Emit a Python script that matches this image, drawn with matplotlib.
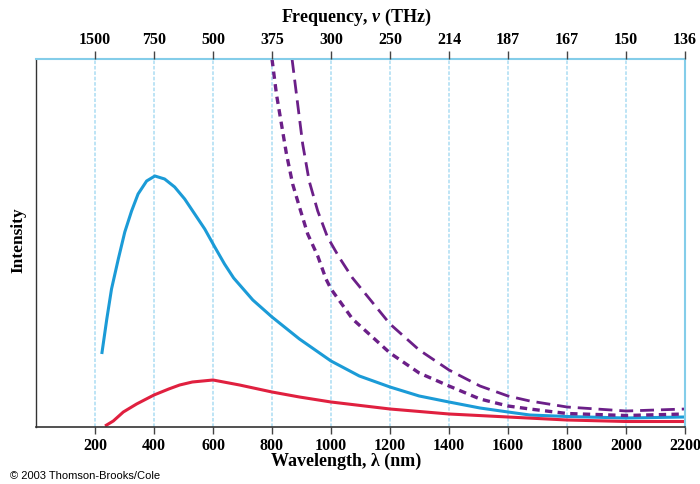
import matplotlib
matplotlib.use('Agg')
import matplotlib.pyplot as plt

# data (intensity in arbitrary units)
blue_wl = [223, 240, 256, 279, 301, 324, 346, 375, 403, 436, 470, 504, 538, 572, 606, 639, 670, 735,
           800, 893, 1000, 1096, 1200, 1299, 1400, 1505, 1600, 1674, 1800, 2000, 2200]
blue_int = [73, 108, 138, 168, 195, 216, 233, 246, 251, 248, 240, 228, 213, 198, 180, 163, 149, 127,
            110, 88, 66, 51, 40, 31, 25, 19, 15, 12, 10.5, 9, 10]

red_wl = [234, 262, 296, 341, 400, 450, 487, 530, 600, 690, 800, 893, 1000, 1200, 1400, 1600, 1800, 2000, 2200]
red_int = [1, 6, 15, 23, 32, 38, 42, 45, 47, 42, 35, 30, 25, 18, 13, 10, 7, 5.5, 5.5]

short_wl = [800, 815, 832, 849, 870, 893, 921, 955, 983, 1000, 1073, 1200, 1299, 1400, 1505, 1600,
            1674, 1800, 2000, 2200]
short_int = [368, 333, 303, 273, 243, 220, 193, 171, 148, 138, 108, 74, 54, 41, 28, 21,
             18, 13.5, 11.5, 13]

long_wl = [868, 887, 904, 926, 955, 988, 1027, 1073, 1200, 1299, 1400, 1505, 1600, 1674, 1800, 2000, 2200]
long_int = [368, 323, 283, 246, 216, 190, 170, 149, 103, 77, 57, 41, 31, 26, 20, 16, 18]

wl_ticks = [200, 400, 600, 800, 1000, 1200, 1400, 1600, 1800, 2000, 2200]
freq_labels = ['1500', '750', '500', '375', '300', '250', '214', '187', '167', '150', '136']

plt.rcParams['mathtext.fontset'] = 'custom'
plt.rcParams['mathtext.it'] = 'Liberation Serif:italic:bold'
plt.rcParams['mathtext.rm'] = 'Liberation Serif:bold'

serif = 'Liberation Serif'
gridc = '#b8e2f5'
edgec = '#84cde9'

fig = plt.figure(figsize=(7, 4.85), dpi=100)
ax = fig.add_axes([36/700, 1-428/485, 649/700, 368/485])

# vertical grid lines
for w in wl_ticks[:-1]:
    ax.axvline(w, color=gridc, lw=1.3, ls=(0, (2, 1)), zorder=0)

ax.plot(blue_wl, blue_int, color='#1b9bd7', lw=2.2, solid_capstyle='butt', solid_joinstyle='round')
ax.plot(red_wl, red_int, color='#e0203f', lw=2.2, solid_capstyle='butt', solid_joinstyle='round')
ax.plot(short_wl, short_int, color='#6b1f88', lw=2.4, ls=(0, (2.2, 1.6)))
ax.plot(long_wl, long_int, color='#6b1f88', lw=2.0, ls=(0, (5, 2.5)))

ax.set_xlim(0, 2200)
ax.set_ylim(0, 368)
ax.set_yticks([])

ax.spines['top'].set_color(edgec)
ax.spines['top'].set_linewidth(1.5)
ax.spines['right'].set_color(edgec)
ax.spines['right'].set_linewidth(1.5)
ax.spines['left'].set_color('#333333')
ax.spines['left'].set_linewidth(1.0)
ax.spines['bottom'].set_color('#333333')
ax.spines['bottom'].set_linewidth(1.2)

ax.set_xticks(wl_ticks)
ax.set_xticklabels([str(w) for w in wl_ticks], fontfamily=serif, fontweight='bold', fontsize=11.5)
ax.tick_params(axis='x', direction='out', length=5, width=1, color='#444444', pad=2)

top = ax.twiny()
top.set_xlim(0, 2200)
top.set_xticks(wl_ticks)
top.set_xticklabels(freq_labels, fontfamily=serif, fontweight='bold', fontsize=11.5)
top.tick_params(axis='x', direction='out', length=6, width=1, color='#444444', pad=3)
for s in top.spines.values():
    s.set_visible(False)

fig.text(346/700, 1-461/485, r'Wavelength, λ (nm)', ha='center', va='center',
         fontfamily=serif, fontweight='bold', fontsize=13)
fig.text(356/700, 1-17/485, r'Frequency, $\mathit{\nu}$ (THz)', ha='center', va='center',
         fontfamily=serif, fontweight='bold', fontsize=13)
fig.text(18/700, 1-240/485, 'Intensity', rotation=90, ha='center', va='center',
         fontfamily=serif, fontweight='bold', fontsize=12.5)
fig.text(10/700, 1-476/485, '© 2003 Thomson-Brooks/Cole', ha='left', va='center',
         fontfamily='Liberation Sans', fontsize=8)

fig.savefig('out.png', dpi=100)
